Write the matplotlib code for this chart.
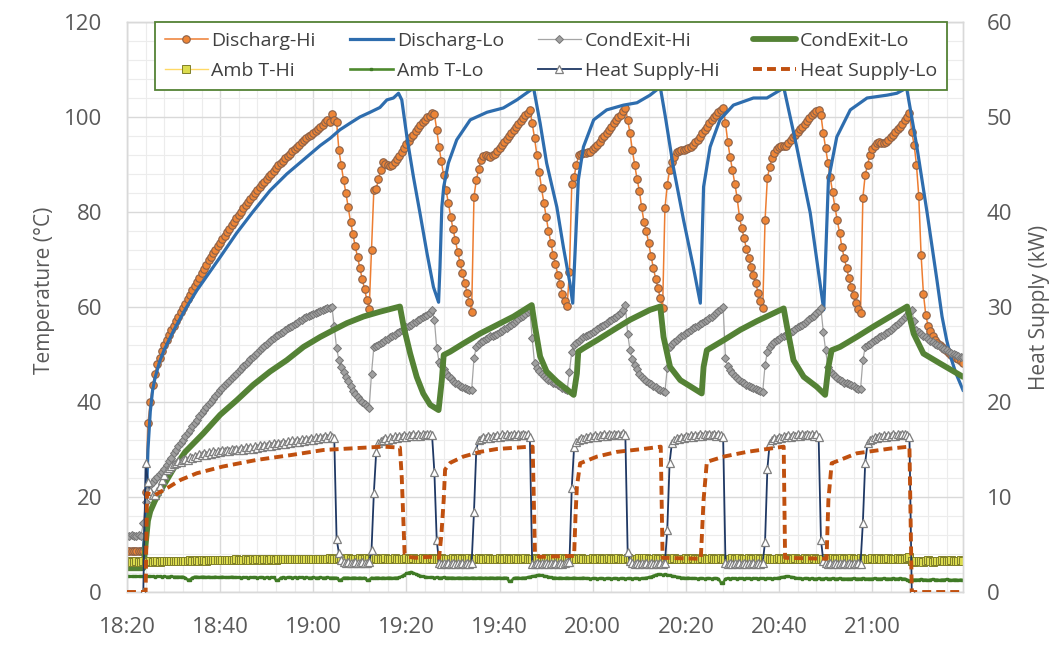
import numpy as np
import matplotlib
matplotlib.use("Agg")
import matplotlib.pyplot as plt
from matplotlib.ticker import MultipleLocator

plt.rcParams['font.family'] = ['Open Sans', 'DejaVu Sans']
nan = float('nan')

STEP = 0.5  # minutes between logged samples (x = minutes after 18:20)
x_ticks = [0, 20, 40, 60, 80, 100, 120, 140, 160]
x_labels = ["18:20", "18:40", "19:00", "19:20", "19:40", "20:00", "20:20", "20:40", "21:00"]
left_ticks = [0, 20, 40, 60, 80, 100, 120]
right_ticks = [0, 10, 20, 30, 40, 50, 60]

# ---- logged series (30 s samples) ----
discharg_hi = [
    8.6, 8.7, 8.6, 8.6, 8.7, 8.6, 8.6, 8.7, 21.0, 35.5,
    40.0, 43.5, 46.0, 48.0, 49.3, 50.7, 52.0, 53.1, 54.1, 55.1,
    56.0, 57.0, 57.9, 58.9, 59.8, 60.7, 61.6, 62.6, 63.5, 64.4,
    65.3, 66.2, 67.1, 68.0, 68.9, 69.8, 70.6, 71.3, 72.0, 72.8,
    73.5, 74.3, 75.0, 75.8, 76.5, 77.2, 78.0, 78.7, 79.4, 80.1,
    80.8, 81.5, 82.1, 82.7, 83.3, 83.9, 84.6, 85.2, 85.8, 86.4,
    86.9, 87.5, 88.1, 88.7, 89.3, 89.8, 90.3, 90.8, 91.3, 91.8,
    92.3, 92.8, 93.2, 93.7, 94.2, 94.7, 95.1, 95.6, 96.0, 96.3,
    96.7, 97.1, 97.5, 97.9, 98.4, 98.9, 99.4, 99.0, 100.6, 99.4,
    99.0, 93.0, 89.9, 86.7, 84.0, 81.0, 77.9, 75.3, 72.8, 70.5,
    68.2, 65.9, 63.8, 61.5, 59.6, 72.0, 84.6, 84.8, 87.0, 88.8,
    90.5, 90.2, 89.9, 89.6, 90.0, 90.6, 91.1, 91.8, 92.6, 93.5,
    94.3, 95.0, 95.7, 96.3, 97.0, 97.6, 98.3, 98.9, 99.4, 99.9,
    100.3, 100.8, 100.6, 97.3, 93.7, 90.7, 87.8, 84.6, 81.9, 79.0,
    76.4, 74.1, 71.6, 69.3, 67.2, 65.0, 63.0, 61.0, 59.0, 83.2,
    86.7, 89.0, 91.0, 91.8, 92.0, 91.8, 91.6, 91.9, 92.3, 92.8,
    93.5, 94.2, 94.8, 95.4, 96.0, 96.6, 97.2, 97.8, 98.5, 99.2,
    99.8, 100.4, 100.9, 101.5, 98.7, 95.6, 92.0, 88.5, 85.0, 82.0,
    79.0, 76.0, 73.5, 71.0, 69.0, 66.8, 64.8, 62.8, 61.2, 60.3,
    67.4, 86.0, 87.4, 90.0, 92.0, 92.3, 92.4, 92.5, 92.6, 92.7,
    93.2, 93.7, 94.2, 94.8, 95.5, 96.1, 96.6, 97.3, 98.0, 98.7,
    99.3, 99.9, 100.5, 101.2, 101.9, 99.4, 96.6, 93.0, 90.0, 87.0,
    84.5, 81.0, 77.9, 76.0, 73.5, 70.8, 68.3, 66.0, 64.0, 61.8,
    59.8, 80.8, 85.7, 88.8, 90.5, 91.6, 92.6, 92.8, 93.0, 93.0,
    93.2, 93.4, 93.7, 94.2, 94.7, 95.2, 95.8, 96.6, 97.3, 98.0,
    98.7, 99.3, 99.9, 100.5, 101.0, 101.5, 102.0, 98.7, 94.7, 91.6,
    88.8, 86.0, 83.0, 79.0, 76.6, 74.5, 72.2, 70.3, 68.5, 66.8,
    65.0, 63.0, 61.2, 59.8, 78.3, 87.2, 89.5, 91.4, 92.5, 93.2,
    93.7, 94.0, 94.0, 94.0, 94.6, 95.2, 95.7, 96.2, 96.8, 97.4,
    98.0, 98.6, 99.2, 99.8, 100.4, 100.8, 101.2, 101.5, 100.4, 96.6,
    93.5, 90.3, 87.4, 84.2, 81.0, 78.3, 75.6, 72.6, 70.3, 68.2,
    66.1, 64.2, 62.5, 60.8, 59.5, 58.7, 83.0, 87.8, 89.9, 92.0,
    93.2, 94.0, 94.5, 94.7, 94.6, 94.5, 94.7, 95.2, 95.7, 96.2,
    96.8, 97.4, 98.0, 98.6, 99.3, 100.0, 100.8, 96.8, 94.2, 90.0,
    83.4, 71.0, 62.8, 58.4, 56.0, 55.0, 54.0, 53.0, 52.4, 52.0,
    51.5, 51.2, 50.8, 50.4, 50.0, 49.7, 49.3, 49.0, 48.6, 48.2,
]

condexit_hi = [
    11.8, 11.8, 11.9, 11.8, 11.8, 11.9, 11.8, 14.5, 19.0, 21.5,
    22.5, 23.2, 23.8, 24.3, 24.8, 25.3, 26.0, 26.8, 27.5, 28.3,
    29.2, 30.0, 30.7, 31.4, 32.1, 32.8, 33.5, 34.2, 34.9, 35.6,
    36.3, 37.0, 37.6, 38.3, 38.9, 39.5, 40.1, 40.7, 41.3, 41.9,
    42.5, 43.0, 43.5, 44.0, 44.5, 45.0, 45.5, 46.0, 46.5, 47.0,
    47.5, 48.0, 48.5, 49.0, 49.5, 49.9, 50.4, 50.9, 51.3, 51.8,
    52.2, 52.6, 53.0, 53.4, 53.8, 54.1, 54.5, 54.8, 55.2, 55.5,
    55.8, 56.1, 56.4, 56.7, 57.0, 57.3, 57.6, 57.9, 58.2, 58.4,
    58.6, 58.8, 59.0, 59.2, 59.4, 59.5, 59.7, 59.8, 60.0, 55.9,
    51.3, 48.9, 47.4, 46.4, 45.3, 44.4, 43.3, 42.4, 41.6, 41.0,
    40.5, 40.0, 39.5, 39.1, 38.8, 46.0, 51.6, 51.8, 52.0, 52.4,
    52.7, 53.0, 53.3, 53.6, 53.9, 54.2, 54.5, 54.8, 55.1, 55.4,
    55.7, 56.0, 56.3, 56.6, 56.9, 57.2, 57.5, 57.8, 58.1, 58.4,
    58.7, 59.4, 57.3, 51.3, 48.5, 47.7, 46.9, 46.2, 45.5, 45.0,
    44.5, 44.0, 43.7, 43.4, 43.1, 42.9, 42.7, 42.6, 42.5, 49.2,
    51.6, 52.3, 52.6, 52.9, 53.2, 53.5, 53.8, 54.0, 54.2, 54.4,
    54.7, 55.0, 55.3, 55.6, 55.9, 56.3, 56.6, 57.0, 57.4, 57.8,
    58.2, 58.6, 59.0, 59.4, 53.4, 48.2, 47.2, 46.5, 45.9, 45.4,
    45.0, 44.7, 44.4, 44.1, 43.9, 43.6, 43.3, 43.0, 42.7, 42.5,
    46.4, 50.6, 52.0, 52.5, 52.9, 53.3, 53.6, 53.9, 54.2, 54.4,
    54.7, 55.0, 55.4, 55.7, 56.0, 56.3, 56.7, 57.0, 57.3, 57.6,
    57.9, 58.3, 58.8, 59.4, 60.4, 54.4, 50.9, 49.0, 47.8, 47.0,
    46.0, 45.3, 44.9, 44.5, 44.1, 43.8, 43.4, 43.1, 42.8, 42.6,
    42.4, 42.2, 47.1, 51.6, 52.3, 52.7, 53.1, 53.5, 53.9, 54.2,
    54.5, 54.8, 55.2, 55.5, 55.8, 56.1, 56.4, 56.7, 57.0, 57.3,
    57.6, 57.9, 58.3, 58.7, 59.1, 59.5, 60.0, 49.2, 47.5, 46.7,
    46.1, 45.5, 45.0, 44.6, 44.2, 43.9, 43.6, 43.4, 43.1, 42.9,
    42.7, 42.5, 42.3, 42.2, 47.8, 50.6, 51.6, 52.2, 52.6, 53.0,
    53.3, 53.6, 53.9, 54.1, 54.4, 54.7, 55.0, 55.4, 55.7, 56.0,
    56.3, 56.6, 57.0, 57.4, 57.8, 58.2, 58.7, 59.2, 59.7, 54.8,
    50.9, 47.4, 46.6, 46.0, 45.5, 45.1, 44.7, 44.4, 44.1, 43.9,
    43.7, 43.5, 43.3, 43.0, 42.8, 42.7, 48.8, 51.6, 52.1, 52.3,
    52.6, 53.0, 53.3, 53.6, 53.9, 54.2, 54.5, 54.8, 55.2, 55.6,
    56.0, 56.4, 56.8, 57.3, 57.8, 58.3, 58.9, 59.4, 57.0, 55.2,
    54.8, 54.4, 54.0, 53.6, 53.2, 52.9, 52.6, 52.3, 52.0, 51.7,
    51.4, 51.1, 50.9, 50.6, 50.3, 50.1, 49.9, 49.7, 49.5, 49.4,
]

amb_t_hi = [
    6.4, 6.5, 6.4, 6.4, 6.5, 6.4, 6.4, 6.5, 6.3, 6.4,
    6.5, 6.4, 6.5, 6.5, 6.4, 6.5, 6.5, 6.6, 6.5, 6.5,
    6.6, 6.5, 6.6, 6.6, 6.5, 6.6, 6.6, 6.7, 6.6, 6.6,
    6.7, 6.6, 6.7, 6.7, 6.6, 6.7, 6.7, 6.8, 6.7, 6.7,
    6.8, 6.7, 6.8, 6.8, 6.7, 6.8, 6.8, 6.9, 6.8, 6.8,
    6.8, 6.9, 6.8, 6.8, 6.9, 6.8, 6.9, 6.9, 6.8, 6.9,
    6.9, 6.8, 6.9, 6.9, 6.8, 6.9, 6.9, 7.0, 6.9, 6.9,
    6.9, 7.0, 6.9, 6.9, 7.0, 6.9, 7.0, 7.0, 6.9, 7.0,
    7.0, 6.9, 7.0, 7.0, 6.9, 7.0, 7.0, 7.1, 7.0, 7.0,
    7.0, 7.1, 7.0, 6.9, 7.0, 7.1, 7.0, 7.0, 6.9, 7.0,
    7.1, 7.0, 7.0, 7.1, 7.0, 6.9, 7.0, 7.1, 7.0, 7.0,
    7.0, 7.1, 7.0, 6.9, 7.0, 7.1, 7.0, 7.0, 6.9, 7.0,
    7.1, 7.0, 7.0, 7.1, 7.0, 6.9, 7.0, 7.1, 7.0, 7.0,
    7.0, 7.1, 7.0, 6.9, 7.0, 7.1, 7.0, 7.0, 6.9, 7.0,
    7.1, 7.0, 7.0, 7.1, 7.0, 6.9, 7.0, 7.1, 7.0, 7.0,
    7.0, 7.1, 7.0, 6.9, 7.0, 7.1, 7.0, 7.0, 6.9, 7.0,
    7.1, 7.0, 7.0, 7.1, 7.0, 6.9, 7.0, 7.1, 7.0, 7.0,
    7.0, 7.1, 7.0, 6.9, 7.0, 7.1, 7.0, 7.0, 6.9, 7.0,
    7.1, 7.0, 7.0, 7.1, 7.0, 6.9, 7.0, 7.1, 7.0, 7.0,
    7.0, 7.1, 7.0, 6.9, 7.0, 7.1, 7.0, 7.0, 6.9, 7.0,
    7.1, 7.0, 7.0, 7.1, 7.0, 6.9, 7.0, 7.1, 7.0, 7.0,
    7.0, 7.1, 7.0, 6.9, 7.0, 7.1, 7.0, 7.0, 6.9, 7.0,
    7.1, 7.2, 7.2, 7.1, 7.0, 6.9, 7.0, 7.1, 7.0, 7.0,
    7.0, 7.1, 7.0, 6.9, 7.0, 7.1, 7.0, 7.0, 6.9, 7.0,
    7.1, 7.0, 7.0, 7.1, 7.0, 6.9, 7.0, 7.1, 7.0, 7.0,
    7.0, 7.1, 7.0, 6.9, 7.0, 7.1, 7.0, 7.0, 6.9, 7.0,
    7.1, 7.0, 7.0, 7.1, 7.0, 6.9, 7.0, 7.1, 7.0, 7.0,
    7.0, 7.1, 7.0, 6.9, 7.0, 7.1, 7.0, 7.0, 6.9, 7.0,
    7.1, 7.0, 7.0, 7.1, 7.0, 6.9, 7.0, 7.1, 7.0, 7.0,
    7.0, 7.1, 7.0, 6.9, 7.0, 7.1, 7.0, 7.0, 6.9, 7.0,
    7.1, 7.0, 7.0, 7.1, 7.0, 6.9, 7.0, 7.1, 7.0, 7.0,
    7.0, 7.1, 7.0, 6.9, 7.0, 7.1, 7.0, 7.0, 6.9, 7.0,
    7.1, 7.0, 7.0, 7.1, 7.0, 6.9, 7.0, 7.1, 7.0, 7.0,
    7.0, 7.1, 7.0, 6.9, 7.0, 7.2, 7.3, 6.6, 6.4, 6.5,
    6.6, 6.5, 6.4, 6.6, 6.7, 6.5, 6.4, 6.6, 6.5, 6.6,
    6.7, 6.6, 6.5, 6.6, 6.7, 6.6, 6.5, 6.6, 6.7, 6.6,
]

amb_t_lo = [
    3.3, 3.3, 3.3, 3.3, 3.3, 3.3, 3.3, 3.3, 3.3, 3.3,
    3.3, 3.3, 3.2, 3.3, 3.3, 3.2, 3.3, 3.2, 3.2, 3.3,
    3.2, 3.2, 3.2, 3.2, 3.2, 3.0, 2.6, 2.6, 3.0, 3.2,
    3.2, 3.1, 3.2, 3.2, 3.1, 3.2, 3.1, 3.1, 3.2, 3.1,
    3.1, 3.2, 3.1, 3.1, 3.1, 3.2, 3.1, 3.1, 3.1, 3.0,
    3.1, 3.1, 3.0, 3.1, 3.1, 3.1, 3.0, 3.1, 3.1, 3.0,
    3.1, 3.0, 3.1, 3.1, 2.5, 2.5, 3.0, 3.1, 3.0, 3.1,
    3.1, 3.0, 3.1, 3.0, 3.1, 3.1, 3.0, 3.1, 3.0, 3.0,
    3.1, 3.0, 3.0, 3.1, 3.0, 3.0, 3.1, 3.0, 3.0, 3.0,
    3.0, 2.5, 2.6, 3.0, 3.0, 3.0, 2.9, 3.0, 3.0, 2.9,
    3.0, 2.9, 3.0, 2.5, 2.6, 3.0, 2.9, 3.0, 3.0, 2.9,
    3.0, 2.9, 3.0, 3.0, 2.9, 3.0, 3.0, 3.1, 3.3, 3.6,
    3.9, 4.1, 4.2, 4.0, 3.8, 3.6, 3.4, 3.3, 3.2, 3.1,
    3.1, 3.1, 3.0, 3.1, 3.0, 3.0, 3.1, 3.0, 3.0, 3.0,
    3.0, 2.9, 3.0, 3.0, 2.9, 3.0, 3.0, 2.9, 3.0, 3.0,
    2.9, 3.0, 3.0, 2.9, 3.0, 2.9, 3.0, 3.0, 2.9, 3.0,
    3.0, 2.9, 3.0, 3.0, 2.3, 2.3, 2.9, 3.0, 3.0, 2.9,
    3.0, 3.0, 3.1, 3.2, 3.3, 3.4, 3.5, 3.6, 3.5, 3.4,
    3.3, 3.2, 3.1, 3.0, 3.0, 2.9, 3.0, 2.9, 2.9, 3.0,
    2.9, 2.9, 3.0, 2.9, 2.9, 2.9, 3.0, 2.9, 2.9, 2.8,
    2.9, 2.9, 2.8, 2.9, 2.9, 2.8, 2.9, 2.9, 2.8, 2.9,
    2.9, 2.8, 2.9, 2.9, 2.8, 2.9, 2.9, 2.8, 2.9, 2.9,
    2.8, 2.9, 2.9, 3.0, 3.1, 3.2, 3.4, 3.6, 3.7, 3.7,
    3.6, 3.7, 3.6, 3.5, 3.4, 3.3, 3.2, 3.1, 3.0, 3.0,
    2.9, 3.0, 2.9, 2.9, 2.9, 2.8, 2.9, 2.9, 2.8, 2.9,
    2.9, 2.8, 2.9, 2.9, 2.8, 2.0, 2.0, 2.8, 2.9, 2.8,
    2.9, 2.9, 2.8, 2.9, 2.9, 2.8, 2.9, 2.9, 2.8, 2.9,
    2.9, 2.8, 2.9, 2.9, 2.8, 2.9, 2.9, 2.8, 2.9, 2.9,
    3.0, 3.1, 3.2, 3.3, 3.3, 3.2, 3.1, 3.0, 2.9, 2.9,
    2.8, 2.9, 2.9, 2.8, 2.9, 2.8, 2.8, 2.9, 2.8, 2.8,
    2.9, 2.8, 2.8, 2.9, 2.8, 2.8, 2.9, 2.8, 2.8, 2.8,
    2.8, 2.8, 2.9, 2.8, 2.8, 2.8, 2.9, 2.8, 2.8, 2.8,
    2.8, 2.9, 2.8, 2.8, 2.8, 2.9, 2.8, 2.8, 2.8, 2.9,
    2.8, 2.8, 2.9, 2.8, 2.8, 2.6, 2.4, 2.5, 2.6, 2.6,
    2.6, 2.7, 2.6, 2.6, 2.5, 2.6, 2.7, 2.6, 2.6, 2.5,
    2.6, 2.6, 2.7, 2.6, 2.5, 2.6, 2.6, 2.5, 2.6, 2.5,
]

heat_supply_hi = [  # kW, right axis
    nan, nan, nan, nan, nan, nan, nan, 0.0, 13.6, 11.6,
    10.6, 10.2, 10.2, 10.6, 11.2, 11.8, 12.3, 12.8, 13.1, 13.3,
    13.5, 13.6, 13.8, 13.7, 13.9, 14.0, 13.9, 14.2, 14.1, 14.3,
    14.2, 14.5, 14.4, 14.6, 14.4, 14.7, 14.5, 14.8, 14.6, 14.8,
    14.7, 15.0, 14.8, 15.0, 14.8, 15.1, 14.9, 15.1, 15.0, 15.2,
    15.0, 15.3, 15.1, 15.3, 15.1, 15.4, 15.2, 15.5, 15.3, 15.5,
    15.4, 15.6, 15.4, 15.7, 15.5, 15.7, 15.6, 15.8, 15.6, 15.9,
    15.7, 16.0, 15.8, 16.0, 15.8, 16.1, 15.9, 16.1, 16.0, 16.2,
    16.0, 16.3, 16.1, 16.3, 16.2, 16.4, 16.2, 16.5, 16.3, 16.2,
    5.6, 4.1, 3.4, 3.2, 3.1, 3.2, 3.1, 3.1, 3.2, 3.1,
    3.1, 3.2, 3.1, 3.1, 3.2, 4.4, 10.4, 14.7, 15.7, 15.9,
    16.0, 16.2, 16.0, 16.3, 16.1, 16.4, 16.2, 16.4, 16.3, 16.5,
    16.3, 16.5, 16.4, 16.6, 16.4, 16.6, 16.4, 16.6, 16.5, 16.6,
    16.6, 16.5, 12.6, 5.5, 3.1, 3.0, 3.1, 3.0, 3.1, 3.0,
    3.1, 3.0, 3.1, 3.0, 3.1, 3.0, 3.1, 3.0, 3.1, 8.4,
    15.0, 16.0, 16.1, 16.3, 16.2, 16.4, 16.2, 16.4, 16.3, 16.5,
    16.3, 16.6, 16.4, 16.6, 16.4, 16.5, 16.6, 16.4, 16.6, 16.5,
    16.6, 16.5, 16.6, 16.3, 2.9, 3.0, 3.1, 3.0, 3.1, 3.0,
    3.1, 3.0, 3.1, 3.0, 3.1, 3.0, 3.1, 3.0, 3.1, 3.2,
    3.2, 11.0, 15.3, 15.8, 16.0, 16.2, 16.1, 16.3, 16.2, 16.4,
    16.3, 16.5, 16.3, 16.5, 16.4, 16.6, 16.4, 16.6, 16.5, 16.6,
    16.5, 16.6, 16.5, 16.7, 16.5, 4.2, 3.3, 3.1, 3.0, 3.1,
    3.0, 3.1, 3.0, 3.1, 3.0, 3.1, 3.0, 3.1, 3.0, 3.1,
    3.0, 3.1, 6.5, 13.6, 15.7, 16.0, 16.2, 16.1, 16.3, 16.2,
    16.4, 16.3, 16.5, 16.3, 16.5, 16.4, 16.6, 16.4, 16.6, 16.5,
    16.6, 16.5, 16.6, 16.4, 16.6, 16.5, 16.3, 3.1, 3.0, 3.1,
    3.0, 3.1, 3.0, 3.1, 3.0, 3.1, 3.0, 3.1, 3.0, 3.1,
    3.0, 3.1, 3.0, 3.1, 5.3, 13.0, 15.7, 16.0, 16.2, 16.1,
    16.3, 16.2, 16.4, 16.3, 16.5, 16.3, 16.5, 16.4, 16.6, 16.4,
    16.6, 16.5, 16.6, 16.5, 16.6, 16.4, 16.6, 16.3, 5.5, 3.3,
    3.1, 3.0, 3.1, 3.0, 3.1, 3.0, 3.1, 3.0, 3.1, 3.0,
    3.1, 3.0, 3.1, 3.0, 3.1, 3.0, 7.3, 13.6, 15.7, 16.0,
    16.1, 16.3, 16.2, 16.4, 16.3, 16.5, 16.3, 16.5, 16.4, 16.6,
    16.4, 16.6, 16.5, 16.6, 16.6, 16.5, 16.3, 0.0, nan, nan,
    nan, nan, nan, nan, nan, nan, nan, nan, nan, nan,
    nan, nan, nan, nan, nan, nan, nan, nan, nan, nan,
]

# ---- series read as (minute, value) break points ----
discharg_lo = [(3.5, 9.0), (4.0, 15.0), (4.5, 30.0), (5.0, 38.0), (5.5, 42.5), (6.0, 45.0),
    (7.0, 48.5), (8.0, 51.0), (10.0, 55.0), (12.5, 59.5), (15.0, 63.5), (17.5, 67.0), (20.0, 70.5),
    (23.5, 75.5), (27.0, 80.0), (30.7, 84.5), (34.3, 88.0), (37.9, 91.0), (41.5, 94.0), (43.6, 95.5),
    (45.7, 97.3), (47.9, 98.7), (50.0, 100.0), (52.2, 101.0), (54.3, 102.0), (55.8, 103.6), (57.2, 104.0),
    (58.3, 105.0), (59.0, 103.6), (60.1, 95.8), (61.5, 87.4), (62.9, 79.8), (64.4, 71.4), (65.8, 64.2),
    (66.9, 61.0), (67.2, 68.4), (67.6, 81.0), (68.0, 85.3), (69.0, 90.3), (70.8, 95.2), (73.7, 99.4),
    (77.3, 101.0), (80.8, 101.9), (83.7, 103.6), (87.3, 106.1), (88.7, 98.7), (90.1, 90.3), (92.3, 81.0),
    (93.7, 72.6), (95.1, 65.0), (95.7, 60.8), (96.2, 71.4), (96.9, 86.7), (98.0, 93.7), (100.2, 99.4),
    (103.0, 101.5), (106.6, 102.5), (109.5, 103.0), (112.3, 104.6), (114.5, 106.3), (115.6, 100.0),
    (117.3, 89.5), (119.5, 78.3), (121.6, 68.4), (123.1, 60.8), (123.8, 85.3), (125.2, 93.7), (127.3, 99.4),
    (130.2, 102.5), (134.5, 104.0), (137.4, 104.0), (140.3, 105.7), (141.0, 106.3), (143.8, 93.7),
    (146.7, 79.8), (149.6, 59.4), (150.6, 86.7), (152.4, 95.8), (155.3, 101.5), (158.9, 104.0),
    (163.2, 104.6), (165.3, 105.0), (167.4, 106.1), (169.6, 93.7), (171.8, 79.8), (173.9, 65.7),
    (175.0, 58.0), (176.0, 53.0), (177.0, 49.0), (178.0, 46.0), (179.5, 42.5)]

condexit_lo = [(0, 5.0), (3.5, 5.0), (4.0, 10.0), (4.5, 15.0), (5.0, 17.0), (6.0, 19.2), (7.0, 21.0),
    (8.5, 23.5), (10.0, 26.0), (12.5, 29.5), (16.4, 33.4), (20.0, 37.3), (23.6, 40.4), (27.1, 43.6),
    (30.7, 46.4), (34.3, 48.8), (37.9, 51.6), (41.5, 53.7), (45.0, 55.5), (47.2, 56.6), (50.8, 58.0),
    (54.3, 59.0), (58.6, 60.1), (59.4, 55.9), (60.8, 50.2), (62.2, 45.3), (63.6, 41.8), (65.1, 39.4),
    (66.9, 38.3), (67.6, 44.6), (68.0, 49.9), (69.4, 50.6), (72.2, 52.3), (75.8, 54.4), (79.4, 56.2),
    (83.0, 58.0), (86.9, 60.4), (87.6, 55.9), (88.7, 49.6), (90.1, 46.4), (92.3, 44.3), (95.9, 41.5),
    (96.6, 46.0), (96.9, 50.6), (98.0, 51.3), (100.9, 53.0), (104.5, 55.2), (108.0, 57.3), (112.3, 59.4),
    (114.5, 60.1), (115.2, 53.7), (116.6, 47.4), (118.8, 44.6), (121.6, 42.9), (123.4, 41.8), (123.8, 47.4),
    (124.5, 50.9), (128.1, 53.0), (131.7, 55.2), (135.2, 57.0), (141.0, 59.7), (141.7, 55.9), (143.1, 48.8),
    (145.3, 45.3), (148.1, 43.2), (149.9, 41.5), (150.6, 47.4), (151.3, 50.9), (153.1, 51.6), (156.7, 53.7),
    (160.3, 55.9), (163.9, 58.0), (167.5, 60.1), (168.9, 54.4), (171.0, 50.2), (174.6, 48.1), (179.5, 45.3)]

heat_supply_lo = [(0, 0.0), (4.0, 0.0), (4.3, 10.4), (5.0, 10.3), (6.0, 10.2), (8.5, 10.9), (11.5, 11.8),
    (15.0, 12.5), (20.5, 13.2), (27.8, 13.9), (35.0, 14.4), (42.2, 14.95), (49.4, 15.15), (55.0, 15.3),
    (58.6, 15.2), (59.0, 12.0), (59.6, 4.1), (60.5, 3.7), (62.0, 3.6), (65.0, 3.7), (67.0, 3.6),
    (67.5, 6.0), (68.0, 9.7), (68.3, 12.9), (69.4, 13.6), (72.2, 14.25), (75.8, 14.75), (79.4, 15.05),
    (86.6, 15.3), (87.1, 15.3), (87.6, 4.0), (88.5, 3.7), (96.0, 3.8), (96.3, 8.0), (96.6, 11.1),
    (97.3, 13.55), (100.9, 14.25), (105.2, 14.75), (111.6, 15.1), (114.6, 15.3), (115.0, 3.6),
    (123.2, 3.5), (123.8, 9.7), (124.5, 13.7), (128.1, 14.25), (133.1, 14.75), (141.0, 15.3),
    (141.3, 3.6), (150.2, 3.5), (150.6, 9.7), (151.3, 13.55), (156.7, 14.6), (163.9, 15.1),
    (168.0, 15.3), (168.5, 0.0), (179.5, 0.0)]


def sampled(vals):
    return np.arange(len(vals)) * STEP, np.array(vals, dtype=float)


def pairs(p):
    a = np.array(p, dtype=float)
    return a[:, 0], a[:, 1]


fig = plt.figure(figsize=(10.54, 6.46), dpi=100)
L, R, T, B = 127, 963, 22, 592
ax = fig.add_axes([L / 1054, 1 - B / 646, (R - L) / 1054, (B - T) / 646])
ax2 = ax.twinx()

txt = '#595959'
ax.set_xlim(0, 179.5)
ax.set_ylim(0, 120)
ax2.set_ylim(0, 60)
ax.set_xticks(x_ticks)
ax.set_xticklabels(x_labels)
ax.set_yticks(left_ticks)
ax2.set_yticks(right_ticks)
ax.xaxis.set_minor_locator(MultipleLocator(4))
ax.yaxis.set_minor_locator(MultipleLocator(4))
ax.grid(which='major', color='#d9d9d9', lw=1.0)
ax.grid(which='minor', color='#ececec', lw=0.8)
ax.set_axisbelow(True)
for a in (ax, ax2):
    for s in a.spines.values():
        s.set_color('#d9d9d9')
        s.set_linewidth(1.0)
ax.tick_params(axis='x', which='both', length=0, labelsize=16, labelcolor=txt, pad=18)
ax.tick_params(axis='y', which='both', length=0, labelsize=16, labelcolor=txt, pad=18)
ax2.tick_params(axis='y', which='both', length=0, labelsize=16, labelcolor=txt, pad=17)

t, v = sampled(discharg_hi)
h_dh, = ax.plot(t, v, color='#ED7D31', lw=1.1, marker='o', ms=5.4, mfc='#EE8536',
                mec='#8a6048', mew=0.8, label='Discharg-Hi', zorder=3)
t, v = pairs(discharg_lo)
h_dl, = ax.plot(t, v, color='#2E6DAE', lw=2.3, label='Discharg-Lo', zorder=4)
t, v = sampled(condexit_hi)
h_ch, = ax.plot(t, v, color='#A5A5A5', lw=0.9, marker='D', ms=4.4, mfc='#A0A0A0',
                mec='#767676', mew=0.7, label='CondExit-Hi', zorder=5)
t, v = pairs(condexit_lo)
h_cl, = ax.plot(t, v, color='#548235', lw=4.2, label='CondExit-Lo', zorder=6,
                solid_joinstyle='round', solid_capstyle='round')
t, v = sampled(amb_t_hi)
h_ah, = ax.plot(t, v, color='#FFD966', lw=1.0, marker='s', ms=5.4, mfc='#DCDC4E',
                mec='#7f7f2a', mew=0.7, label='Amb T-Hi', zorder=7)
t, v = sampled(amb_t_lo)
h_al, = ax.plot(t, v, color='#4E8A2E', lw=1.9, marker='s', ms=2.0, mfc='#3f7a25',
                mec='#3f7a25', label='Amb T-Lo', zorder=8)

t, v = sampled(heat_supply_hi)
h_hh, = ax2.plot(t, v, color='#1F3864', lw=1.3, marker='^', ms=5.9, mfc='white',
                 mec='#7f7f7f', mew=0.9, label='Heat Supply-Hi', zorder=3)
t, v = pairs(heat_supply_lo)
h_hl, = ax2.plot(t, v, color='#C0500F', lw=2.8, dashes=(2.3, 1.3), label='Heat Supply-Lo', zorder=4)

handles = [h_dh, h_ah, h_dl, h_al, h_ch, h_hh, h_cl, h_hl]
leg = ax2.legend(handles=handles, labels=[h.get_label() for h in handles], ncol=4,
                 loc='upper left', bbox_to_anchor=(28 / 836, 0, 792 / 836, 1.0),
                 mode='expand', borderaxespad=0, fontsize=14, frameon=True, fancybox=False,
                 edgecolor='#548235', framealpha=1, handlelength=2.2, handletextpad=0.2,
                 labelspacing=0.62, borderpad=0.5, columnspacing=0.4)
leg.get_frame().set_linewidth(1.3)
for tx in leg.get_texts():
    tx.set_color('#404040')
leg.set_zorder(20)

fig.text(45 / 1054, 1 - 290 / 646, 'Temperature (°C)', rotation=90, ha='center', va='center',
         fontsize=15, color=txt)
fig.text(1040 / 1054, 1 - 307 / 646, 'Heat Supply (kW)', rotation=90, ha='center', va='center',
         fontsize=15, color=txt)

fig.savefig('out.png', dpi=100)
